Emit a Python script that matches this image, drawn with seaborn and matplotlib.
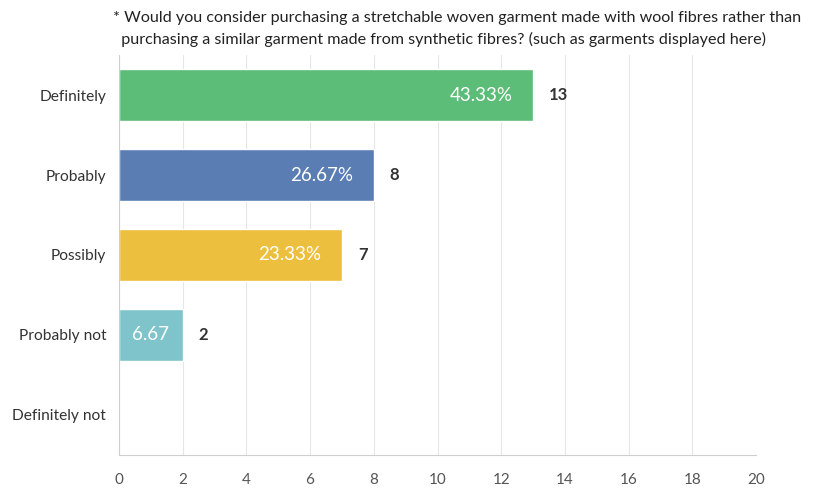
import matplotlib
matplotlib.use("Agg")
import matplotlib.pyplot as plt
import seaborn as sns
import pandas as pd

answers = ["Definitely", "Probably", "Possibly", "Probably not", "Definitely not"]
counts = [13, 8, 7, 2, 0]
percent_labels = ["43.33%", "26.67%", "23.33%", "6.67", ""]
bar_colors = ["#5bbd77", "#5a7db3", "#edbf3f", "#7fc4cb", "#cccccc"]
x_ticks = [0, 2, 4, 6, 8, 10, 12, 14, 16, 18, 20]
title = ("* Would you consider purchasing a stretchable woven garment made with wool fibres rather than\n"
         "  purchasing a similar garment made from synthetic fibres? (such as garments displayed here)")

df = pd.DataFrame({"answer": answers, "count": counts})

sns.set_style("white")
plt.rcParams["font.family"] = ["Lato", "DejaVu Sans"]

fig = plt.figure(figsize=(8.14, 4.88), dpi=100)
ax = fig.add_axes([0.146, 0.068, 0.783, 0.819])

sns.barplot(data=df, x="count", y="answer", hue="answer", palette=bar_colors,
            legend=False, width=0.66, saturation=1, ax=ax)

ax.set_xlim(0, 20)
ax.set_xticks(x_ticks)
ax.set_xticklabels([str(t) for t in x_ticks], fontsize=11, color="#555555")
ax.tick_params(axis="x", length=0, pad=13)
ax.tick_params(axis="y", length=0, pad=9, labelsize=11.2, labelcolor="#333333")
ax.set_xlabel("")
ax.set_ylabel("")
ax.grid(axis="x", color="#e6e6e6", linewidth=0.8)
ax.set_axisbelow(True)
for side in ["top", "right"]:
    ax.spines[side].set_visible(False)
ax.spines["left"].set_color("#cfcfcf")
ax.spines["bottom"].set_color("#cfcfcf")

for i, (c, p) in enumerate(zip(counts, percent_labels)):
    if c > 0:
        if c < 4:
            ax.text(c / 2, i, p, ha="center", va="center", color="white", fontsize=13.5)
        else:
            ax.text(c - 0.65, i, p, ha="right", va="center", color="white", fontsize=13.5)
        ax.text(c + 0.5, i, str(c), ha="left", va="center", color="#333333",
                fontsize=12, fontweight="bold")

fig.text(0.139, 0.94, title, ha="left", va="center", fontsize=11.6,
         family=["Lato", "DejaVu Sans"], color="#222222", linespacing=1.55)

fig.savefig("out.png", dpi=100)
